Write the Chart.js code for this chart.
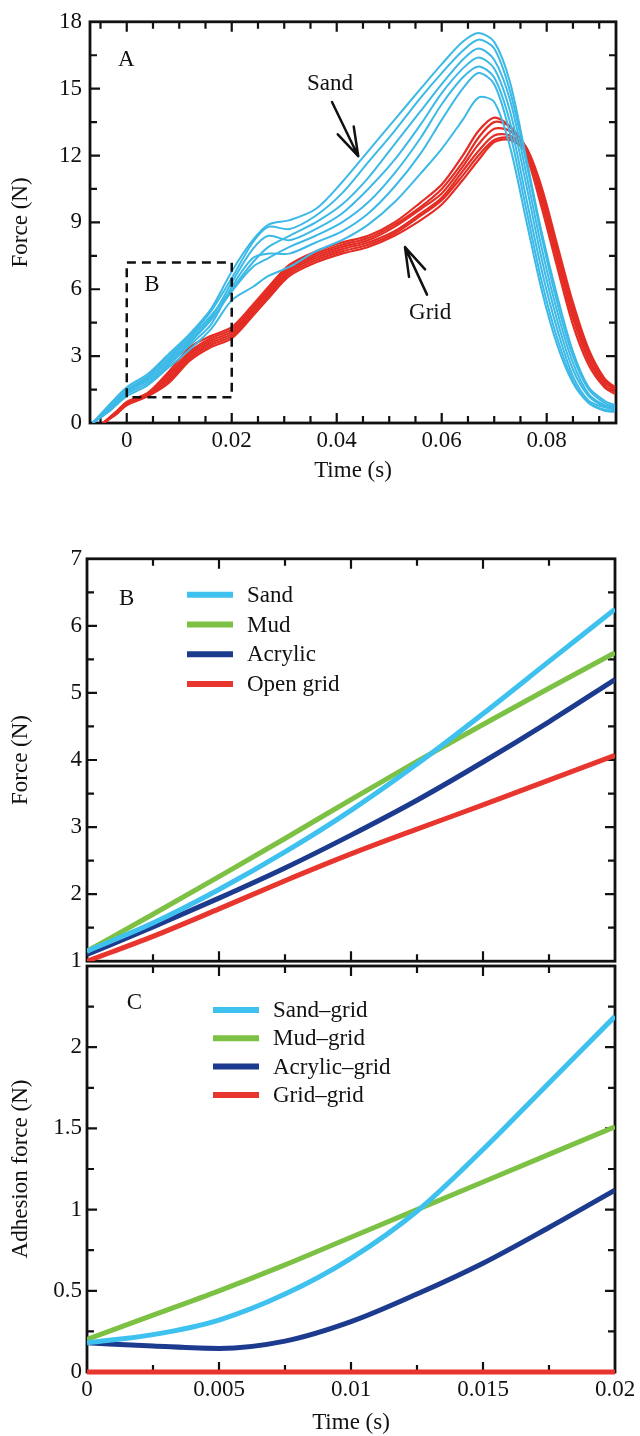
<!DOCTYPE html>
<html>
<head>
<meta charset="utf-8">
<script src="https://cdn.jsdelivr.net/npm/chart.js@4.4.1/dist/chart.umd.min.js"></script>
<style>
  html, body { margin: 0; padding: 0; background: #fff; }
  body { width: 640px; height: 1436px; position: relative; overflow: hidden; }
  canvas { position: absolute; left: 0; }
  #chartA { top: 0; }
  #chartB { top: 540px; }
  #chartC { top: 946px; }
</style>
</head>
<body>
<canvas id="chartA" width="640" height="482"></canvas>
<canvas id="chartB" width="640" height="440"></canvas>
<canvas id="chartC" width="640" height="490"></canvas>
<script>
// ---- Panel A: repeated trials ----
const timeSand = [-0.0065, -0.003, 0, 0.004, 0.008, 0.012, 0.016, 0.02, 0.024, 0.027, 0.031, 0.036, 0.041, 0.046,
                  0.051, 0.056, 0.06, 0.064, 0.067, 0.07, 0.073, 0.076, 0.079, 0.082, 0.085, 0.088, 0.091, 0.093];
const sandRun1 = [0, 0.9, 1.6, 2.2, 3.1, 4.0, 5.1, 6.8, 8.2, 8.9, 9.1, 9.6, 10.8, 12.2, 13.6, 15.0, 16.1, 17.1, 17.5, 17.1, 15.3, 12.0, 8.6, 5.7, 3.2, 1.6, 1.0, 0.8];
const sandRun2 = [0, 0.8, 1.5, 2.1, 3.0, 3.9, 5.0, 6.5, 8.1, 8.8, 8.7, 9.3, 10.3, 11.7, 13.1, 14.6, 15.7, 16.7, 17.2, 16.8, 14.9, 11.8, 8.4, 5.4, 3.0, 1.5, 0.9, 0.75];
const sandRun3 = [0, 0.8, 1.5, 2.0, 2.9, 3.8, 4.8, 6.0, 7.2, 7.9, 8.4, 9.0, 9.8, 11.0, 12.5, 14.0, 15.2, 16.3, 16.8, 16.3, 14.5, 11.3, 7.9, 5.0, 2.7, 1.3, 0.8, 0.7];
const sandRun4 = [0, 0.7, 1.4, 2.0, 2.8, 3.7, 4.7, 6.3, 7.8, 8.4, 8.2, 8.7, 9.4, 10.5, 11.8, 13.4, 14.8, 15.9, 16.4, 15.9, 14.0, 10.8, 7.4, 4.6, 2.4, 1.2, 0.75, 0.65];
const sandRun5 = [0, 0.7, 1.4, 1.9, 2.7, 3.6, 4.6, 5.9, 7.0, 7.4, 7.9, 8.4, 9.0, 9.9, 11.2, 12.8, 14.3, 15.5, 16.0, 15.5, 13.5, 10.2, 6.9, 4.2, 2.1, 1.0, 0.7, 0.6];
const sandRun6 = [0, 0.6, 1.3, 1.8, 2.6, 3.5, 4.4, 6.1, 7.4, 7.6, 7.6, 8.1, 8.6, 9.4, 10.6, 12.1, 13.6, 15.0, 15.7, 15.2, 13.0, 9.7, 6.4, 3.8, 1.9, 0.9, 0.6, 0.55];
const sandRun7 = [0, 0.6, 1.2, 1.7, 2.5, 3.3, 4.2, 5.5, 6.1, 6.6, 7.0, 7.7, 8.2, 8.9, 9.9, 11.2, 12.3, 13.6, 14.6, 14.4, 12.4, 9.2, 6.0, 3.5, 1.8, 0.9, 0.55, 0.5];

const timeGrid = [-0.0045, -0.002, 0, 0.004, 0.008, 0.012, 0.016, 0.02, 0.024, 0.027, 0.031, 0.036, 0.041, 0.046,
                  0.051, 0.056, 0.06, 0.064, 0.067, 0.07, 0.073, 0.076, 0.079, 0.082, 0.085, 0.088, 0.091, 0.093];
const gridRun1 = [0, 0.5, 0.95, 1.35, 2.3, 3.4, 3.9, 4.3, 5.3, 6.1, 7.1, 7.7, 8.1, 8.4, 9.0, 9.9, 10.7, 12.0, 13.1, 13.7, 13.3, 12.1, 9.7, 7.0, 4.4, 2.6, 1.6, 1.3];
const gridRun2 = [0, 0.5, 0.9, 1.3, 2.2, 3.2, 3.8, 4.2, 5.2, 6.0, 7.0, 7.6, 8.0, 8.3, 8.9, 9.7, 10.5, 11.7, 12.8, 13.5, 13.3, 12.3, 10.0, 7.3, 4.7, 2.8, 1.7, 1.4];
const gridRun3 = [0, 0.45, 0.9, 1.3, 2.1, 3.1, 3.7, 4.1, 5.1, 5.9, 6.9, 7.5, 7.9, 8.2, 8.8, 9.6, 10.3, 11.5, 12.5, 13.2, 13.1, 12.4, 10.2, 7.5, 4.9, 2.9, 1.8, 1.5];
const gridRun4 = [0, 0.45, 0.85, 1.25, 2.0, 3.0, 3.6, 4.0, 5.0, 5.8, 6.8, 7.4, 7.8, 8.1, 8.6, 9.4, 10.1, 11.3, 12.2, 12.9, 12.9, 12.3, 10.3, 7.7, 5.1, 3.1, 1.9, 1.6];
const gridRun5 = [0, 0.4, 0.85, 1.25, 1.9, 2.9, 3.5, 3.9, 4.9, 5.7, 6.7, 7.3, 7.7, 8.0, 8.5, 9.3, 10.0, 11.1, 12.0, 12.7, 12.8, 12.4, 10.6, 8.0, 5.4, 3.3, 2.0, 1.6];
const gridRun6 = [0, 0.4, 0.8, 1.2, 1.8, 2.8, 3.4, 3.8, 4.8, 5.6, 6.6, 7.2, 7.6, 7.9, 8.4, 9.1, 9.8, 10.9, 11.8, 12.6, 12.7, 12.2, 10.4, 7.8, 5.2, 3.2, 1.9, 1.5];

// dashed box marking the region shown in B
const boxTime = [0, 0, 0.02, 0.02, 0];
const boxForce = [1.15, 7.2, 7.2, 1.15, 1.15];

// ---- Panels B and C ----
const timeFit = [0, 0.0025, 0.005, 0.0075, 0.01, 0.0125, 0.015, 0.0175, 0.02];
const sandFit = [1.15, 1.57, 2.07, 2.63, 3.25, 3.94, 4.69, 5.47, 6.25];
const mudFit = [1.15, 1.7, 2.26, 2.83, 3.41, 3.98, 4.53, 5.07, 5.6];
const acrylicFit = [1.1, 1.51, 1.94, 2.39, 2.88, 3.4, 3.97, 4.57, 5.2];
const openGridFit = [1.0, 1.37, 1.78, 2.2, 2.6, 2.97, 3.33, 3.7, 4.07];

const sandAdhesion = [0.18, 0.23, 0.32, 0.48, 0.7, 0.99, 1.37, 1.78, 2.19];
const mudAdhesion = [0.2, 0.35, 0.5, 0.66, 0.83, 1.0, 1.17, 1.34, 1.51];
const acrylicAdhesion = [0.18, 0.16, 0.145, 0.19, 0.31, 0.48, 0.67, 0.89, 1.12];
const gridAdhesion = [0, 0, 0, 0, 0, 0, 0, 0, 0];

const legendB = ['Sand', 'Mud', 'Acrylic', 'Open grid'];
const legendC = ['Sand\u2013grid', 'Mud\u2013grid', 'Acrylic\u2013grid', 'Grid\u2013grid'];

// tick labels
const xLabelsA = [0, 0.02, 0.04, 0.06, 0.08];
const yLabelsA = [0, 3, 6, 9, 12, 15, 18];
const xLabelsC = [0, 0.005, 0.01, 0.015, 0.02];
const yLabelsB = [1, 2, 3, 4, 5, 6, 7];
const yLabelsC = [0, 0.5, 1, 1.5, 2];

// colours
const BLUE_A = '#3cb9e6';
const RED_A = '#e42d24';
const SAND = '#3ec1ee';
const MUD = '#7cc143';
const ACRYLIC = '#1d3b8e';
const GRID = '#e8352d';
const INK = '#111';

const FONT = "'Liberation Serif', 'Times New Roman', Times, serif";
const FONT_SIZE = 23;
Chart.defaults.font.family = FONT;
Chart.defaults.font.size = FONT_SIZE;
Chart.defaults.color = INK;

function pts(xs, ys) {
    return xs.map((x, i) => ({ x: x, y: ys[i] }));
}

function inList(list, v) {
    return list.some(l => Math.abs(l - v) < 1e-9);
}

function fmt(v) {
    return String(parseFloat(v.toFixed(4)));
}

// Box around the plot area with inward tick marks on all four sides
const frame = {
    id: 'frame',
    beforeDatasetsDraw(chart, args, opts) {
        const { ctx, chartArea: a, scales: { x, y } } = chart;
        ctx.save();
        ctx.strokeStyle = INK;
        ctx.lineWidth = 2.2;
        ctx.beginPath();
        x.ticks.forEach(t => {
            const px = x.getPixelForValue(t.value);
            if (px < a.left + 1 || px > a.right - 1) return;
            const len = inList(opts.xMajor, t.value) ? 10 : 7;
            ctx.moveTo(px, a.bottom); ctx.lineTo(px, a.bottom - len);
            ctx.moveTo(px, a.top); ctx.lineTo(px, a.top + len);
        });
        y.ticks.forEach(t => {
            const py = y.getPixelForValue(t.value);
            if (py < a.top + 1 || py > a.bottom - 1) return;
            const len = inList(opts.yMajor, t.value) ? 10 : 7;
            ctx.moveTo(a.left, py); ctx.lineTo(a.left + len, py);
            ctx.moveTo(a.right, py); ctx.lineTo(a.right - len, py);
        });
        ctx.stroke();
        ctx.lineWidth = 2.8;
        ctx.strokeRect(a.left, a.top, a.right - a.left, a.bottom - a.top);
        ctx.restore();
    }
};

// Panel letters, text notes and arrows, placed in data units
const notes = {
    id: 'notes',
    afterDatasetsDraw(chart, args, opts) {
        const { ctx, scales: { x, y } } = chart;
        ctx.save();
        ctx.fillStyle = INK;
        ctx.strokeStyle = INK;
        ctx.font = FONT_SIZE + 'px ' + FONT;
        ctx.textAlign = 'center';
        ctx.textBaseline = 'middle';
        (opts.texts || []).forEach(n => {
            ctx.fillText(n.text, x.getPixelForValue(n.x), y.getPixelForValue(n.y));
        });
        ctx.lineWidth = 2.5;
        ctx.lineCap = 'round';
        (opts.arrows || []).forEach(ar => {
            const x1 = x.getPixelForValue(ar.from[0]), y1 = y.getPixelForValue(ar.from[1]);
            const x2 = x.getPixelForValue(ar.to[0]), y2 = y.getPixelForValue(ar.to[1]);
            const ang = Math.atan2(y2 - y1, x2 - x1);
            const head = 30;
            ctx.beginPath();
            ctx.moveTo(x1, y1); ctx.lineTo(x2, y2);
            ctx.moveTo(x2, y2);
            ctx.lineTo(x2 - head * Math.cos(ang - 0.3), y2 - head * Math.sin(ang - 0.3));
            ctx.moveTo(x2, y2);
            ctx.lineTo(x2 - head * Math.cos(ang + 0.3), y2 - head * Math.sin(ang + 0.3));
            ctx.stroke();
        });
        ctx.restore();
    }
};

// Legend drawn inside the plot area
const inlineLegend = {
    id: 'inlineLegend',
    afterDatasetsDraw(chart, args, opts) {
        if (!opts.show) return;
        const { ctx, chartArea: a } = chart;
        ctx.save();
        ctx.font = FONT_SIZE + 'px ' + FONT;
        ctx.textAlign = 'left';
        ctx.textBaseline = 'middle';
        chart.data.datasets.forEach((ds, i) => {
            const yy = a.top + opts.top + i * opts.gap;
            ctx.strokeStyle = ds.borderColor;
            ctx.lineWidth = 6;
            ctx.beginPath();
            ctx.moveTo(a.left + opts.lineStart, yy);
            ctx.lineTo(a.left + opts.lineEnd, yy);
            ctx.stroke();
            ctx.fillStyle = INK;
            ctx.fillText(ds.label, a.left + opts.textStart, yy + 1);
        });
        ctx.restore();
    }
};

function axis(opts) {
    return {
        type: 'linear',
        min: opts.min,
        max: opts.max,
        grid: { display: false, drawTicks: false },
        border: { display: false },
        ticks: {
            display: opts.labels !== null,
            stepSize: opts.step,
            includeBounds: false,
            autoSkip: false,
            maxRotation: 0,
            padding: opts.pad,
            callback: v => (opts.labels && inList(opts.labels, v)) ? fmt(v) : ''
        },
        title: {
            display: !!opts.title,
            text: opts.title || '',
            font: { size: FONT_SIZE, lineHeight: 1 },
            padding: opts.titlePad || 0
        },
        afterFit: s => {
            if (opts.width !== undefined) s.width = opts.width;
            if (opts.height !== undefined) s.height = opts.height;
        }
    };
}

function line(label, xs, ys, color, width, extra) {
    return Object.assign({
        label: label,
        data: pts(xs, ys),
        borderColor: color,
        borderWidth: width,
        pointRadius: 0,
        fill: false
    }, extra || {});
}

const sandRuns = [sandRun1, sandRun2, sandRun3, sandRun4, sandRun5, sandRun6, sandRun7];
const gridRuns = [gridRun1, gridRun2, gridRun3, gridRun4, gridRun5, gridRun6];

// ---- Chart A ----
new Chart(document.getElementById('chartA'), {
    type: 'line',
    data: {
        datasets: [
            line('', boxTime, boxForce, INK, 2.5, { borderDash: [9, 6], tension: 0 }),
            ...sandRuns.map(r => line('', timeSand, r, BLUE_A, 2, { tension: 0.3 })),
            ...gridRuns.map(r => line('', timeGrid, r, RED_A, 2.2, { tension: 0.3 }))
        ]
    },
    options: {
        responsive: false,
        animation: false,
        events: [],
        layout: { padding: { top: 17, right: 24, left: 0, bottom: 0 } },
        scales: {
            x: axis({ min: -0.007, max: 0.0932, step: 0.005, labels: xLabelsA, pad: 4, height: 59,
                      title: 'Time (s)', titlePad: { top: 0, bottom: 0 } }),
            y: axis({ min: 0, max: 18, step: 1.5, labels: yLabelsA, pad: 8, width: 90,
                      title: 'Force (N)', titlePad: { top: 9, bottom: 0 } })
        },
        plugins: {
            legend: { display: false },
            tooltip: { enabled: false },
            frame: { xMajor: xLabelsA, yMajor: yLabelsA },
            notes: {
                texts: [
                    { text: 'A', x: -0.0001, y: 16.3 },
                    { text: 'B', x: 0.0048, y: 6.2 },
                    { text: 'Sand', x: 0.0387, y: 15.2 },
                    { text: 'Grid', x: 0.0578, y: 4.92 }
                ],
                arrows: [
                    { from: [0.0391, 14.4], to: [0.0441, 11.97] },
                    { from: [0.0572, 5.76], to: [0.053, 7.89] }
                ]
            }
        }
    },
    plugins: [frame, notes]
});

// ---- Chart B ----
new Chart(document.getElementById('chartB'), {
    type: 'line',
    data: {
        datasets: [
            line(legendB[0], timeFit, sandFit, SAND, 5, { cubicInterpolationMode: 'monotone' }),
            line(legendB[1], timeFit, mudFit, MUD, 5, { cubicInterpolationMode: 'monotone' }),
            line(legendB[2], timeFit, acrylicFit, ACRYLIC, 5, { cubicInterpolationMode: 'monotone' }),
            line(legendB[3], timeFit, openGridFit, GRID, 5, { cubicInterpolationMode: 'monotone' })
        ]
    },
    options: {
        responsive: false,
        animation: false,
        events: [],
        layout: { padding: { top: 17, right: 25, left: 0, bottom: 0 } },
        scales: {
            x: axis({ min: 0, max: 0.02, step: 0.0025, labels: null, pad: 0, height: 14 }),
            y: axis({ min: 1, max: 7, step: 0.5, labels: yLabelsB, pad: 5, width: 87,
                      title: 'Force (N)', titlePad: { top: 9, bottom: 0 } })
        },
        plugins: {
            legend: { display: false },
            tooltip: { enabled: false },
            frame: { xMajor: xLabelsC, yMajor: yLabelsB },
            notes: { texts: [{ text: 'B', x: 0.0015, y: 6.4 }] },
            inlineLegend: { show: true, top: 36, gap: 29.7, lineStart: 100, lineEnd: 146, textStart: 160 }
        }
    },
    plugins: [frame, notes, inlineLegend]
});

// ---- Chart C ----
new Chart(document.getElementById('chartC'), {
    type: 'line',
    data: {
        datasets: [
            line(legendC[0], timeFit, sandAdhesion, SAND, 5, { cubicInterpolationMode: 'monotone' }),
            line(legendC[1], timeFit, mudAdhesion, MUD, 5, { cubicInterpolationMode: 'monotone' }),
            line(legendC[2], timeFit, acrylicAdhesion, ACRYLIC, 5, { cubicInterpolationMode: 'monotone' }),
            line(legendC[3], timeFit, gridAdhesion, GRID, 5, { clip: false })
        ]
    },
    options: {
        responsive: false,
        animation: false,
        events: [],
        layout: { padding: { top: 20, right: 25, left: 0, bottom: 0 } },
        scales: {
            x: axis({ min: 0, max: 0.02, step: 0.0025, labels: xLabelsC, pad: 4, height: 64,
                      title: 'Time (s)', titlePad: { top: 0, bottom: 1.5 } }),
            y: axis({ min: 0, max: 2.5, step: 0.25, labels: yLabelsC, pad: 5, width: 87,
                      title: 'Adhesion force (N)', titlePad: { top: 9, bottom: 0 } })
        },
        plugins: {
            legend: { display: false },
            tooltip: { enabled: false },
            frame: { xMajor: xLabelsC, yMajor: yLabelsC },
            notes: { texts: [{ text: 'C', x: 0.0018, y: 2.27 }] },
            inlineLegend: { show: true, top: 44, gap: 28.3, lineStart: 126, lineEnd: 172, textStart: 186 }
        }
    },
    plugins: [frame, notes, inlineLegend]
});
</script>
</body>
</html>
